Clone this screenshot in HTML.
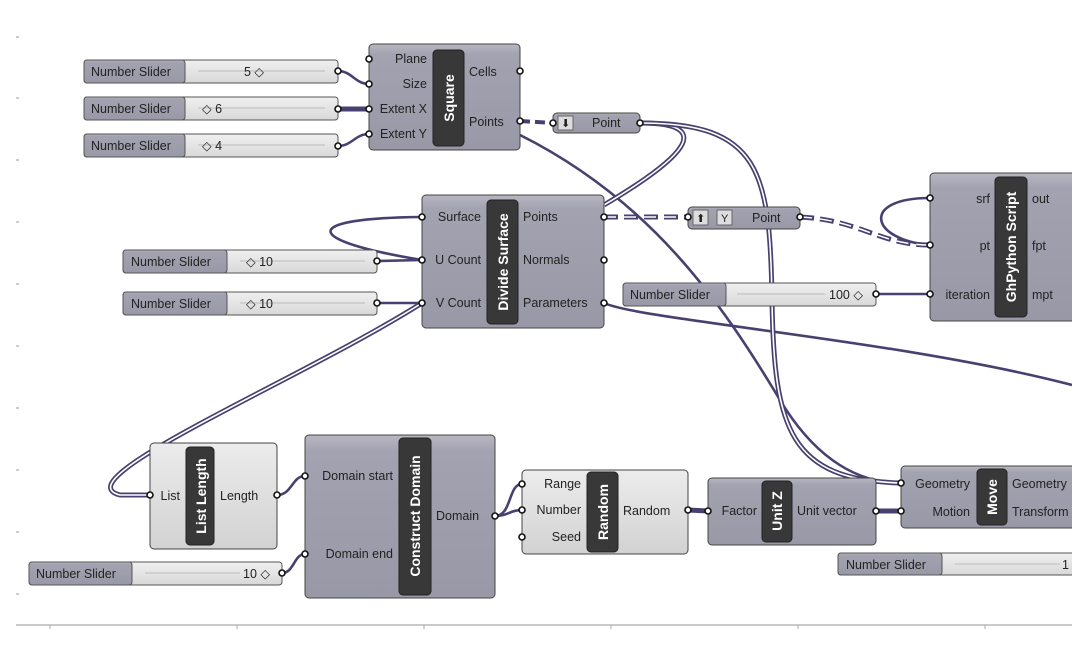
<!DOCTYPE html>
<html><head><meta charset="utf-8"><style>
html,body{margin:0;padding:0;background:#fff;width:1072px;height:645px;overflow:hidden}
svg{display:block}
text{font-family:"Liberation Sans","DejaVu Sans",sans-serif;font-size:12.5px;fill:#222}
.lbl{font-size:14px;font-weight:bold;fill:#fff}
.w{fill:none;stroke:#4a4070;stroke-width:2.6}
.wd{fill:none;stroke:#4a4070;stroke-width:5}
.wi{fill:none;stroke:#fff;stroke-width:1.6}
.c{fill:url(#g1);stroke:#444;stroke-width:1}
.cl{fill:url(#g2);stroke:#444;stroke-width:1}
.pill{fill:#383838;stroke:#222}
.port{fill:#fff;stroke:#111;stroke-width:1.6}
</style></head><body>
<svg width="1072" height="645" viewBox="0 0 1072 645">
<defs>
<linearGradient id="g1" x1="0" y1="0" x2="0" y2="1"><stop offset="0" stop-color="#b8b7c2"/><stop offset="0.1" stop-color="#a3a2b0"/><stop offset="1" stop-color="#9998a6"/></linearGradient>
<linearGradient id="g2" x1="0" y1="0" x2="0" y2="1"><stop offset="0" stop-color="#ececec"/><stop offset="1" stop-color="#d2d2d2"/></linearGradient>
<linearGradient id="g3" x1="0" y1="0" x2="0" y2="1"><stop offset="0" stop-color="#f0f0f0"/><stop offset="1" stop-color="#d8d8d8"/></linearGradient>
</defs>

<!-- left ticks -->
<g stroke="#999" stroke-width="1">
<line x1="16" y1="37" x2="19" y2="37"/><line x1="16" y1="98" x2="19" y2="98"/><line x1="16" y1="160" x2="19" y2="160"/><line x1="16" y1="222" x2="19" y2="222"/><line x1="16" y1="284" x2="19" y2="284"/><line x1="16" y1="346" x2="19" y2="346"/><line x1="16" y1="408" x2="19" y2="408"/><line x1="16" y1="470" x2="19" y2="470"/><line x1="16" y1="532" x2="19" y2="532"/><line x1="16" y1="594" x2="19" y2="594"/>
</g>
<line x1="16" y1="625" x2="1072" y2="625" stroke="#aaa" stroke-width="1.2"/>
<g stroke="#aaa"><line x1="50" y1="625" x2="50" y2="629"/><line x1="237" y1="625" x2="237" y2="629"/><line x1="424" y1="625" x2="424" y2="629"/><line x1="611" y1="625" x2="611" y2="629"/><line x1="798" y1="625" x2="798" y2="629"/><line x1="985" y1="625" x2="985" y2="629"/></g>

<!-- wires -->
<path class="w" d="M338,71 C352,71 355,84 369,84"/>
<path class="wd" d="M338,109 L369,109"/>
<path class="w" d="M338,146 C352,146 355,134 369,134"/>
<path class="w" d="M377,261 L422,260"/>
<path class="w" d="M377,303 C395,303 405,303 422,303"/>
<path class="w" d="M422,217 C300,218 300,240 422,260"/>
<path class="w" d="M520,135 C650,200 720,300 780,400 C810,450 850,483 901,483"/>
<path class="w" d="M604,303 C640,320 900,340 1072,385"/>
<path class="w" d="M876,294 L930,294"/>
<path class="w" d="M930,198 C860,198 870,240 930,245"/>
<path class="w" d="M277,495 C292,495 292,476 305,476"/>
<path class="w" d="M282,573 C294,573 294,554 305,554"/>
<path class="w" d="M495,516 C512,516 508,484 522,484"/>
<path class="w" d="M495,516 C508,516 510,510 522,510"/>
<path class="wd" d="M688,510 L708,511"/>
<path class="wd" d="M876,511 L901,511"/>
<path class="w" d="M860,482 L901,483"/>
<g>
<path class="wd" d="M640,123 C720,123 680,160 604,205"/><path class="wi" d="M640,123 C720,123 680,160 604,205"/>
<path class="wd" d="M640,123 C760,123 770,170 772,300 C774,430 790,480 901,483"/><path class="wi" d="M640,123 C760,123 770,170 772,300 C774,430 790,480 901,483"/>
<path class="wd" d="M422,303 C300,380 60,480 120,495 L150,495"/><path class="wi" d="M422,303 C300,380 60,480 120,495 L150,495"/>
</g>
<path d="M520,121 L553,123" stroke="#4a4070" stroke-width="4" stroke-dasharray="10,5" fill="none"/>
<path d="M604,217 L688,217" stroke="#4a4070" stroke-width="5" stroke-dasharray="14,6" fill="none"/><path d="M604,217 L688,217" stroke="#fff" stroke-width="1.5" stroke-dasharray="12,8" fill="none"/>
<path d="M800,217 C860,220 880,245 930,245" stroke="#4a4070" stroke-width="5" stroke-dasharray="14,6" fill="none"/><path d="M800,217 C860,220 880,245 930,245" stroke="#fff" stroke-width="1.5" stroke-dasharray="12,8" fill="none"/>

<!-- sliders -->
<g id="sl">
</g>
<!-- slider helper drawn manually -->
<g>
<rect x="84" y="60" width="254" height="23" rx="3" fill="url(#g3)" stroke="#555"/><rect x="84" y="60" width="101" height="23" rx="3" fill="url(#g1)" stroke="#555"/>
<text x="91" y="76">Number Slider</text><line x1="198" y1="71" x2="325" y2="71" stroke="#bbb"/><text x="244" y="76">5 ◇</text>
<rect x="84" y="97" width="254" height="23" rx="3" fill="url(#g3)" stroke="#555"/><rect x="84" y="97" width="101" height="23" rx="3" fill="url(#g1)" stroke="#555"/>
<text x="91" y="113">Number Slider</text><line x1="198" y1="108" x2="325" y2="108" stroke="#bbb"/><text x="202" y="113">◇ 6</text>
<rect x="84" y="134" width="254" height="23" rx="3" fill="url(#g3)" stroke="#555"/><rect x="84" y="134" width="101" height="23" rx="3" fill="url(#g1)" stroke="#555"/>
<text x="91" y="150">Number Slider</text><line x1="198" y1="145" x2="325" y2="145" stroke="#bbb"/><text x="202" y="150">◇ 4</text>

<rect x="123" y="250" width="254" height="23" rx="3" fill="url(#g3)" stroke="#555"/><rect x="123" y="250" width="104" height="23" rx="3" fill="url(#g1)" stroke="#555"/>
<text x="131" y="266">Number Slider</text><line x1="240" y1="261" x2="365" y2="261" stroke="#bbb"/><text x="246" y="266">◇ 10</text>
<rect x="123" y="292" width="254" height="23" rx="3" fill="url(#g3)" stroke="#555"/><rect x="123" y="292" width="104" height="23" rx="3" fill="url(#g1)" stroke="#555"/>
<text x="131" y="308">Number Slider</text><line x1="240" y1="303" x2="365" y2="303" stroke="#bbb"/><text x="246" y="308">◇ 10</text>

<rect x="623" y="283" width="253" height="23" rx="3" fill="url(#g3)" stroke="#555"/><rect x="623" y="283" width="103" height="23" rx="3" fill="url(#g1)" stroke="#555"/>
<text x="630" y="299">Number Slider</text><line x1="737" y1="294" x2="825" y2="294" stroke="#bbb"/><text x="829" y="299">100 ◇</text>

<rect x="29" y="562" width="253" height="23" rx="3" fill="url(#g3)" stroke="#555"/><rect x="29" y="562" width="103" height="23" rx="3" fill="url(#g1)" stroke="#555"/>
<text x="36" y="578">Number Slider</text><line x1="145" y1="573" x2="240" y2="573" stroke="#bbb"/><text x="243" y="578">10 ◇</text>

<rect x="838" y="553" width="240" height="22" rx="3" fill="url(#g3)" stroke="#555"/><rect x="838" y="553" width="104" height="22" rx="3" fill="url(#g1)" stroke="#555"/>
<text x="846" y="569">Number Slider</text><line x1="955" y1="564" x2="1060" y2="564" stroke="#bbb"/><text x="1062" y="569">1</text>
</g>

<!-- Square -->
<rect class="c" x="369" y="44" width="151" height="106" rx="4"/>
<rect class="pill" x="433" y="50" width="31" height="96" rx="4"/>
<text class="lbl" transform="translate(454,98) rotate(-90)" text-anchor="middle">Square</text>
<text x="427" y="63" text-anchor="end">Plane</text><text x="427" y="88" text-anchor="end">Size</text><text x="427" y="113" text-anchor="end">Extent X</text><text x="427" y="138" text-anchor="end">Extent Y</text>
<text x="469" y="76">Cells</text><text x="469" y="126">Points</text>

<!-- Point1 -->
<rect class="c" x="553" y="113" width="87" height="20" rx="4"/>
<rect x="558" y="116" width="15" height="14" fill="#ddd" stroke="#666"/><text x="561" y="127" style="font-size:11px">⬇</text>
<text x="592" y="127">Point</text>

<!-- Divide Surface -->
<rect class="c" x="422" y="195" width="182" height="133" rx="4"/>
<rect class="pill" x="487" y="200" width="31" height="124" rx="4"/>
<text class="lbl" transform="translate(508,262) rotate(-90)" text-anchor="middle">Divide Surface</text>
<text x="481" y="221" text-anchor="end">Surface</text><text x="481" y="264" text-anchor="end">U Count</text><text x="481" y="307" text-anchor="end">V Count</text>
<text x="523" y="221">Points</text><text x="523" y="264">Normals</text><text x="523" y="307">Parameters</text>

<!-- Point2 -->
<rect class="c" x="688" y="207" width="112" height="22" rx="4"/>
<rect x="693" y="210" width="15" height="15" fill="#ddd" stroke="#666"/><text x="696" y="222" style="font-size:11px">⬆</text>
<rect x="717" y="210" width="15" height="15" fill="#ddd" stroke="#666"/><text x="721" y="222" style="font-size:11px">Y</text>
<text x="752" y="222">Point</text>

<!-- GhPython -->
<rect class="c" x="930" y="173" width="150" height="148" rx="4"/>
<rect class="pill" x="995" y="177" width="32" height="140" rx="4"/>
<text class="lbl" transform="translate(1016,247) rotate(-90)" text-anchor="middle">GhPython Script</text>
<text x="990" y="203" text-anchor="end">srf</text><text x="990" y="250" text-anchor="end">pt</text><text x="990" y="299" text-anchor="end">iteration</text>
<text x="1032" y="203">out</text><text x="1032" y="250">fpt</text><text x="1032" y="299">mpt</text>

<!-- List Length -->
<rect class="cl" x="150" y="443" width="127" height="106" rx="4"/>
<rect class="pill" x="186" y="447" width="28" height="98" rx="4"/>
<text class="lbl" transform="translate(206,496) rotate(-90)" text-anchor="middle">List Length</text>
<text x="180" y="500" text-anchor="end">List</text><text x="220" y="500">Length</text>

<!-- Construct Domain -->
<rect class="c" x="305" y="435" width="190" height="163" rx="4"/>
<rect class="pill" x="399" y="438" width="32" height="157" rx="4"/>
<text class="lbl" transform="translate(420,516) rotate(-90)" text-anchor="middle">Construct Domain</text>
<text x="393" y="480" text-anchor="end">Domain start</text><text x="393" y="558" text-anchor="end">Domain end</text>
<text x="436" y="520">Domain</text>

<!-- Random -->
<rect class="cl" x="522" y="470" width="166" height="84" rx="4"/>
<rect class="pill" x="587" y="472" width="31" height="80" rx="4"/>
<text class="lbl" transform="translate(608,512) rotate(-90)" text-anchor="middle">Random</text>
<text x="581" y="488" text-anchor="end">Range</text><text x="581" y="514" text-anchor="end">Number</text><text x="581" y="541" text-anchor="end">Seed</text>
<text x="623" y="515">Random</text>

<!-- Unit Z -->
<rect class="c" x="708" y="478" width="168" height="67" rx="4"/>
<rect class="pill" x="762" y="481" width="30" height="61" rx="4"/>
<text class="lbl" transform="translate(782,511) rotate(-90)" text-anchor="middle">Unit Z</text>
<text x="757" y="515" text-anchor="end">Factor</text><text x="797" y="515">Unit vector</text>

<!-- Move -->
<rect class="c" x="901" y="466" width="180" height="62" rx="4"/>
<rect class="pill" x="977" y="469" width="30" height="56" rx="4"/>
<text class="lbl" transform="translate(997,497) rotate(-90)" text-anchor="middle">Move</text>
<text x="970" y="488" text-anchor="end">Geometry</text><text x="970" y="516" text-anchor="end">Motion</text>
<text x="1012" y="488">Geometry</text><text x="1012" y="516">Transform</text>

<!-- ports -->
<g class="port">
<circle cx="338" cy="71" r="3"/><circle cx="338" cy="109" r="3"/><circle cx="338" cy="146" r="3"/>
<circle cx="369" cy="59" r="3"/><circle cx="369" cy="84" r="3"/><circle cx="369" cy="109" r="3"/><circle cx="369" cy="134" r="3"/>
<circle cx="520" cy="71" r="3"/><circle cx="520" cy="121" r="3"/>
<circle cx="553" cy="123" r="3"/><circle cx="640" cy="123" r="3"/>
<circle cx="377" cy="261" r="3"/><circle cx="377" cy="303" r="3"/>
<circle cx="422" cy="217" r="3"/><circle cx="422" cy="260" r="3"/><circle cx="422" cy="303" r="3"/>
<circle cx="604" cy="217" r="3"/><circle cx="604" cy="260" r="3"/><circle cx="604" cy="303" r="3"/>
<circle cx="688" cy="217" r="3"/><circle cx="800" cy="217" r="3"/>
<circle cx="876" cy="294" r="3"/><circle cx="930" cy="198" r="3"/><circle cx="930" cy="245" r="3"/><circle cx="930" cy="294" r="3"/>
<circle cx="150" cy="495" r="3"/><circle cx="277" cy="495" r="3"/><circle cx="282" cy="573" r="3"/>
<circle cx="305" cy="476" r="3"/><circle cx="305" cy="554" r="3"/><circle cx="495" cy="516" r="3"/>
<circle cx="522" cy="484" r="3"/><circle cx="522" cy="510" r="3"/><circle cx="522" cy="537" r="3"/><circle cx="688" cy="510" r="3"/>
<circle cx="708" cy="511" r="3"/><circle cx="876" cy="511" r="3"/><circle cx="901" cy="483" r="3"/><circle cx="901" cy="511" r="3"/>
</g>
</svg>
</body></html>
